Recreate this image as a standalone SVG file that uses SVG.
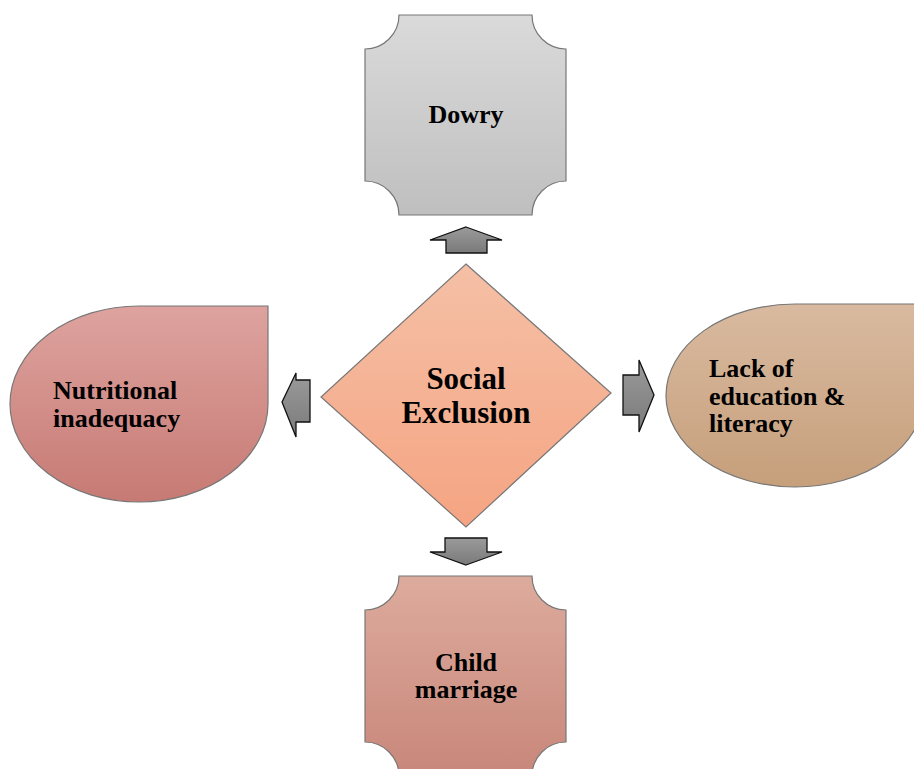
<svg xmlns="http://www.w3.org/2000/svg" width="914" height="769" viewBox="0 0 914 769">
<defs>
<linearGradient id="gGray" x1="0" y1="0" x2="0" y2="1"><stop offset="0" stop-color="#dadada"/><stop offset="1" stop-color="#bfbfbf"/></linearGradient>
<linearGradient id="gChild" x1="0" y1="0" x2="0" y2="1"><stop offset="0" stop-color="#ddab9d"/><stop offset="1" stop-color="#c8877a"/></linearGradient>
<linearGradient id="gNut" x1="0" y1="0" x2="0" y2="1"><stop offset="0" stop-color="#dea39f"/><stop offset="1" stop-color="#c77a74"/></linearGradient>
<linearGradient id="gLack" x1="0" y1="0" x2="0" y2="1"><stop offset="0" stop-color="#d9baa0"/><stop offset="1" stop-color="#c69f7b"/></linearGradient>
<linearGradient id="gCenter" x1="0" y1="0" x2="0" y2="1"><stop offset="0" stop-color="#f5c0a6"/><stop offset="1" stop-color="#f5a482"/></linearGradient>
<linearGradient id="gArrow" x1="0" y1="0" x2="0" y2="1"><stop offset="0" stop-color="#9a9a9a"/><stop offset="1" stop-color="#7a7a7a"/></linearGradient>
</defs>
<style>
.node{stroke:#777;stroke-width:1.2}
.arrow{fill:url(#gArrow);stroke:#111;stroke-width:1.3;stroke-linejoin:miter}
.t{font-family:"Liberation Serif","Times New Roman",serif;font-weight:bold;font-size:26px;fill:#000}
.c{text-anchor:middle}
</style>
<g id="connectors">
<path class="arrow" d="M466,227 L502,240 L487,240 L487,253 L446,253 L446,240 L430,240 Z"/>
<path class="arrow" d="M466,565 L502,552 L487,552 L487,538 L445,538 L445,552 L430,552 Z"/>
<path class="arrow" d="M282,402 L296,373 L296,380 L310,380 L310,422 L296,422 L296,437 Z"/>
<path class="arrow" d="M654,395 L639,360 L639,375 L623,375 L623,415 L639,415 L639,432 Z"/>
</g>
<g id="dowry">
<path class="node" fill="url(#gGray)" d="M399,15 L532,15 A34,34 0 0 0 566,49 L566,181 A34,34 0 0 0 532,215 L399,215 A34,34 0 0 0 365,181 L365,49 A34,34 0 0 0 399,15 Z"/>
<text class="t c" x="466" y="123">Dowry</text>
</g>
<g id="child-marriage">
<path class="node" fill="url(#gChild)" d="M399,576 L532,576 A34,34 0 0 0 566,610 L566,742 A34,34 0 0 0 532,776 L399,776 A34,34 0 0 0 365,742 L365,610 A34,34 0 0 0 399,576 Z"/>
<text class="t c" x="466" y="671">Child</text>
<text class="t c" x="466" y="698">marriage</text>
</g>
<g id="nutritional">
<path class="node" fill="url(#gNut)" d="M268,306 L268,404 A129,98 0 0 1 139,502 A129,98 0 0 1 10,404 A129,98 0 0 1 139,306 Z"/>
<text class="t" x="53" y="399">Nutritional</text>
<text class="t" x="53" y="427">inadequacy</text>
</g>
<g id="lack-education">
<path class="node" fill="url(#gLack)" d="M924,304 L924,395 A129,91.5 0 0 1 795,487 A129,91.5 0 0 1 666,395 A129,91.5 0 0 1 795,304 Z"/>
<text class="t" x="709" y="377">Lack of</text>
<text class="t" x="709" y="404.5">education &amp;</text>
<text class="t" x="709" y="432">literacy</text>
</g>
<g id="social-exclusion">
<path class="node" fill="url(#gCenter)" d="M466,264 L611,393 L466,527 L321,397 Z"/>
<text class="t c" x="466" y="389" style="font-size:31px">Social</text>
<text class="t c" x="466" y="423" style="font-size:31px">Exclusion</text>
</g>
</svg>
